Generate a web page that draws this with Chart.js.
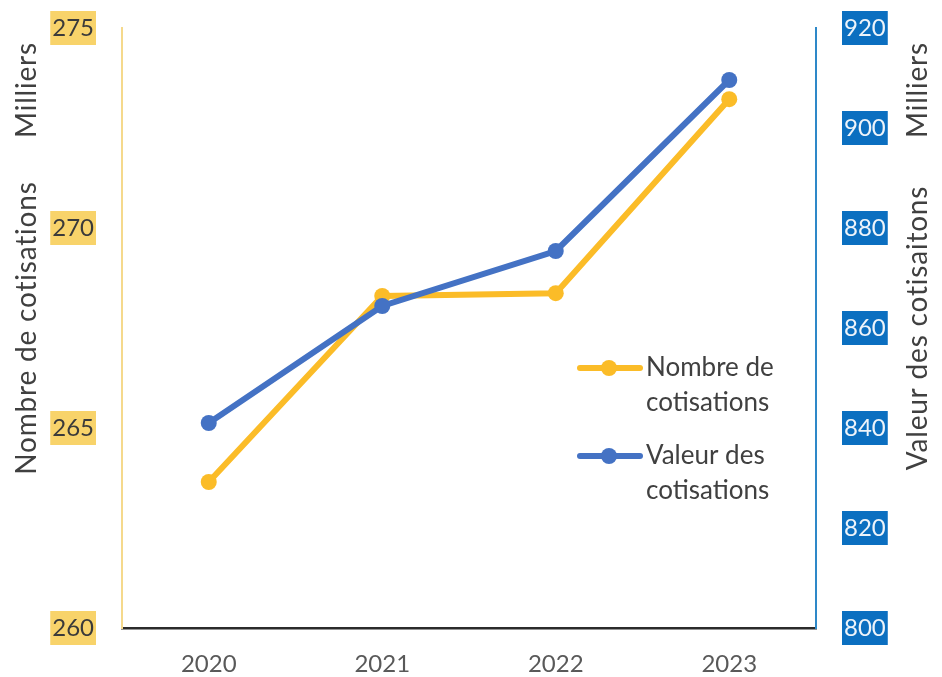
<!DOCTYPE html>
<html>
<head>
<meta charset="utf-8">
<script src="https://cdn.jsdelivr.net/npm/chart.js@4/dist/chart.umd.min.js"></script>
<style>
    html, body { margin: 0; padding: 0; background: #fff; }
    #wrap { width: 942px; height: 677px; }
</style>
</head>
<body>
<div id="wrap"><canvas id="cotisations_graph"></canvas></div>
<script>
const years = ['2020', '2021', '2022', '2023'];
// milliers
const nombreCotisations = [263.65, 268.3, 268.37, 273.22];
const valeurCotisations = [841, 864.4, 875.4, 909.6];
const nombreRange = [260, 275, 5];
const valeurRange = [800, 920, 20];
const legendLabels = [['Nombre de', 'cotisations'], ['Valeur des', 'cotisations']];

const FONT = 'Lato, "Open Sans", sans-serif';
const YELLOW = '#FBBC28';
const BLUE = '#4472C4';
const TICK_PAD = 28;

// fond coloré derrière les graduations des axes y
const tickBackdrop = {
    id: 'tickBackdrop',
    beforeDraw(chart) {
        const ctx = chart.ctx;
        ctx.save();
        ctx.font = '24px ' + FONT;
        [['y', '#F8D36A'], ['y1', '#0B6FC0']].forEach(function (item) {
            const scale = chart.scales[item[0]];
            scale.ticks.forEach(function (tick, i) {
                const y = scale.getPixelForTick(i);
                const w = ctx.measureText(String(tick.value)).width + 4;
                ctx.fillStyle = item[1];
                if (item[0] === 'y') {
                    ctx.fillRect(scale.right - TICK_PAD + 2 - w, y - 17, w, 34);
                } else {
                    ctx.fillRect(scale.left + TICK_PAD - 2, y - 17, w, 34);
                }
            });
        });
        ctx.restore();
    }
};

// titres verticaux et légende
const sideTitles = {
    id: 'sideTitles',
    afterDraw(chart) {
        const ctx = chart.ctx;
        const area = chart.chartArea;
        ctx.save();
        ctx.fillStyle = '#404040';
        ctx.font = '28px ' + FONT;
        ctx.letterSpacing = '0.8px';
        ctx.textAlign = 'center';
        ctx.textBaseline = 'middle';
        const titles = [
            [27, 90, 'Milliers'],
            [27, (area.top + area.bottom) / 2, 'Nombre de cotisations'],
            [918, 90, 'Milliers'],
            [918, (area.top + area.bottom) / 2, 'Valeur des cotisaitons']
        ];
        titles.forEach(function (t) {
            ctx.save();
            ctx.translate(t[0], t[1]);
            ctx.rotate(-Math.PI / 2);
            ctx.fillText(t[2], 0, 0);
            ctx.restore();
        });
        ctx.letterSpacing = '0px';

        // légende
        ctx.font = '26px ' + FONT;
        ctx.textAlign = 'left';
        chart.data.datasets.forEach(function (ds, i) {
            const y = 368 + i * 88;
            ctx.strokeStyle = ds.borderColor;
            ctx.lineWidth = 6;
            ctx.lineCap = 'round';
            ctx.beginPath();
            ctx.moveTo(580, y);
            ctx.lineTo(640, y);
            ctx.stroke();
            ctx.fillStyle = ds.borderColor;
            ctx.beginPath();
            ctx.arc(609, y, 8, 0, Math.PI * 2);
            ctx.fill();
            ctx.fillStyle = '#404040';
            legendLabels[i].forEach(function (line, j) {
                ctx.fillText(line, 646, y + j * 35);
            });
        });
        ctx.restore();
    }
};

function fixWidth(width) {
    return function (scale) {
        scale.width = width;
        scale.paddingTop = 0;
        scale.paddingBottom = 0;
    };
}

new Chart(document.getElementById('cotisations_graph'), {
    type: 'line',
    data: {
        labels: years,
        datasets: [{
            label: 'Nombre de cotisations',
            data: nombreCotisations,
            yAxisID: 'y',
            borderColor: YELLOW,
            backgroundColor: YELLOW,
            borderWidth: 6,
            pointRadius: 8,
            pointBorderWidth: 0,
            order: 2
        }, {
            label: 'Valeur des cotisations',
            data: valeurCotisations,
            yAxisID: 'y1',
            borderColor: BLUE,
            backgroundColor: BLUE,
            borderWidth: 6,
            pointRadius: 8,
            pointBorderWidth: 0,
            order: 1
        }]
    },
    options: {
        responsive: true,
        maintainAspectRatio: false,
        animation: false,
        layout: {
            padding: { top: 28, bottom: 0, left: 0, right: 0 }
        },
        plugins: {
            legend: { display: false },
            tooltip: { enabled: false }
        },
        scales: {
            x: {
                offset: true,
                grid: { display: false, drawTicks: false },
                border: { color: '#2B2B2B', width: 2.5 },
                ticks: {
                    color: '#595959',
                    padding: 22,
                    font: { family: FONT, size: 24 }
                },
                afterFit: function (scale) { scale.height = 49; }
            },
            y: {
                position: 'left',
                min: nombreRange[0],
                max: nombreRange[1],
                grid: { display: false, drawTicks: false },
                border: { color: '#F5D98C', width: 2 },
                ticks: {
                    stepSize: nombreRange[2],
                    color: '#3A3A3A',
                    padding: TICK_PAD,
                    font: { family: FONT, size: 24 }
                },
                afterFit: fixWidth(122)
            },
            y1: {
                position: 'right',
                min: valeurRange[0],
                max: valeurRange[1],
                grid: { display: false, drawTicks: false },
                border: { color: '#2E88C8', width: 2 },
                ticks: {
                    stepSize: valeurRange[2],
                    color: '#EEF4FA',
                    padding: TICK_PAD,
                    font: { family: FONT, size: 24 }
                },
                afterFit: fixWidth(126)
            }
        }
    },
    plugins: [tickBackdrop, sideTitles]
});
</script>
</body>
</html>
